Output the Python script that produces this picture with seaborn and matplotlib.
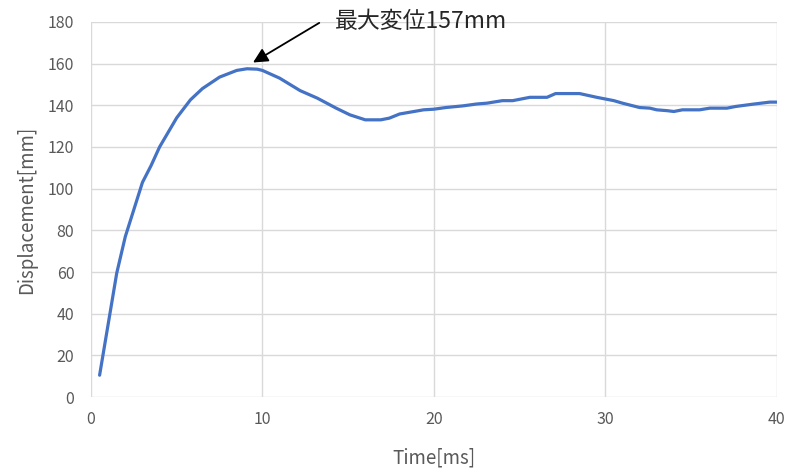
import numpy as np
import pandas as pd
import matplotlib
matplotlib.use("Agg")
import matplotlib.pyplot as plt
import seaborn as sns

# Data
time_ms = [0.5, 1.5, 2.0, 3.0, 3.5, 4.0, 5.0, 5.8, 6.5, 7.5, 8.5, 9.1, 9.7, 10.0,
           11.0, 12.2, 13.2, 14.3, 15.1, 16.0, 16.9, 17.4, 18.0, 19.4, 20.0, 20.7,
           21.7, 22.5, 23.1, 24.0, 24.6, 25.6, 26.6, 27.1, 28.5, 29.5, 30.5, 31.0,
           32.0, 32.6, 33.0, 33.6, 34.0, 34.5, 35.5, 36.1, 37.1, 37.6, 38.6, 39.6, 40.0]
displacement_mm = [10.5, 59.5, 77, 103, 111, 120, 134, 142.6, 148, 153.5, 156.7, 157.5, 157.3, 156.7,
                   153, 147, 143.4, 138.6, 135.4, 133, 133, 133.8, 135.8, 137.8, 138.1, 138.9,
                   139.7, 140.6, 141, 142.2, 142.2, 143.8, 143.8, 145.6, 145.6, 143.8, 142.2, 141,
                   138.9, 138.6, 137.8, 137.4, 137, 137.8, 137.8, 138.6, 138.6, 139.4, 140.5, 141.5, 141.5]
x_ticks = [0, 10, 20, 30, 40]
y_ticks = [0, 20, 40, 60, 80, 100, 120, 140, 160, 180]
peak_label = "最大変位157mm"

df = pd.DataFrame({"time": time_ms, "disp": displacement_mm})

sns.set_style("whitegrid")
plt.rcParams["font.family"] = ["Noto Sans CJK JP", "DejaVu Sans"]

fig = plt.figure(figsize=(7.95, 4.75), dpi=100)
ax = fig.add_axes([0.1145, 0.164, 0.8625, 0.79])

sns.lineplot(data=df, x="time", y="disp", ax=ax, color="#4472C4", linewidth=2.3)

ax.set_xlim(0, 40)
ax.set_ylim(0, 180)
ax.set_xticks(x_ticks)
ax.set_yticks(y_ticks)
ax.grid(True, color="#d9d9d9", linewidth=1.0)
for s in ax.spines.values():
    s.set_visible(False)
ax.tick_params(axis="both", length=0, labelsize=11.5, labelcolor="#595959")
ax.tick_params(axis="y", pad=12)
ax.tick_params(axis="x", pad=10)

ax.set_xlabel("Time[ms]", fontsize=13.5, color="#595959", labelpad=14)
ax.set_ylabel("Displacement[mm]", fontsize=13.5, color="#595959", labelpad=8)

ax.annotate(peak_label, xy=(9.45, 160.5), xytext=(14.2, 180),
            fontsize=16.5, color="#262626", va="center", ha="left",
            annotation_clip=False,
            arrowprops=dict(arrowstyle="-|>", color="black", lw=1.3,
                            mutation_scale=22, shrinkA=10, shrinkB=0,
                            relpos=(0, 0.85)))

fig.savefig("out.png", dpi=100)
